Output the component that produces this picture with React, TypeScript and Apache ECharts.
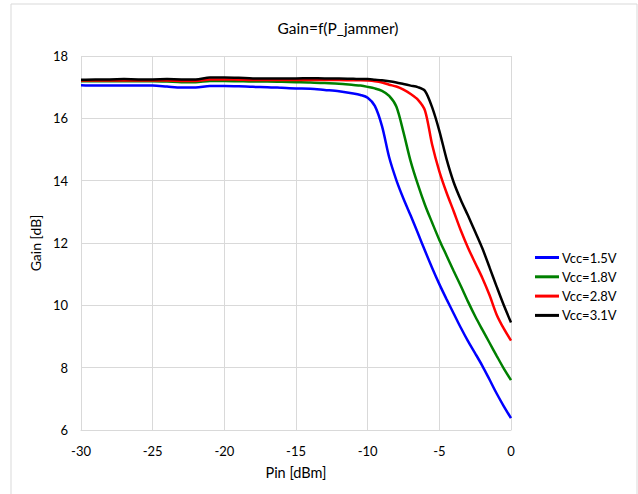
import React, { useEffect, useRef } from "react";
import * as echarts from "echarts";

const pin = [
  -30, -29, -28, -27, -26, -25, -24, -23, -22, -21, -20, -19, -18, -17, -16, -15, -14, -13, -12, -11,
  -10.5, -10, -9.5, -9, -8.5, -8, -7.5, -7, -6.5, -6, -5.5, -5, -4.5, -4, -3.5, -3, -2.5, -2, -1.5, -1, -0.5, 0,
];

const vcc15 = [
  17.06, 17.05, 17.05, 17.05, 17.05, 17.05, 17.02, 16.99, 16.99, 17.04, 17.04, 17.03, 17.01, 17.0, 16.98, 16.96, 16.95, 16.91, 16.87, 16.8,
  16.75, 16.66, 16.4, 15.75, 14.75, 14.02, 13.42, 12.88, 12.32, 11.75, 11.2, 10.68, 10.2, 9.74, 9.28, 8.85, 8.46, 8.06, 7.62, 7.17, 6.76, 6.38,
];

const vcc18 = [
  17.19, 17.19, 17.19, 17.19, 17.19, 17.19, 17.18, 17.16, 17.16, 17.2, 17.2, 17.19, 17.18, 17.18, 17.17, 17.16, 17.15, 17.13, 17.11, 17.07,
  17.05, 17.01, 16.96, 16.88, 16.72, 16.38, 15.55, 14.62, 13.88, 13.22, 12.65, 12.1, 11.6, 11.1, 10.62, 10.12, 9.65, 9.22, 8.8, 8.38, 7.97, 7.6,
];

const vcc28 = [
  17.21, 17.21, 17.21, 17.21, 17.21, 17.21, 17.21, 17.2, 17.2, 17.25, 17.25, 17.24, 17.23, 17.23, 17.23, 17.23, 17.23, 17.23, 17.23, 17.22,
  17.22, 17.21, 17.19, 17.15, 17.08, 17.02, 16.92, 16.78, 16.6, 16.25, 15.15, 14.3, 13.62, 13.02, 12.4, 11.85, 11.36, 10.88, 10.33, 9.7, 9.25, 8.87,
];

const vcc31 = [
  17.24, 17.25, 17.25, 17.26, 17.25, 17.25, 17.26, 17.25, 17.25, 17.31, 17.31, 17.3, 17.28, 17.28, 17.28, 17.28, 17.29, 17.28, 17.28, 17.27,
  17.26, 17.26, 17.24, 17.22, 17.19, 17.15, 17.1, 17.05, 17.0, 16.88, 16.35, 15.6, 14.7, 13.95, 13.38, 12.88, 12.36, 11.83, 11.22, 10.6, 10.0, 9.45,
];

const seriesNames = ["Vcc=1.5V", "Vcc=1.8V", "Vcc=2.8V", "Vcc=3.1V"];
const seriesColors = ["#0000ff", "#008000", "#ff0000", "#000000"];
const seriesValues = [vcc15, vcc18, vcc28, vcc31];

const FONT = "Lato, 'Noto Sans', sans-serif";

export default function App() {
  const ref = useRef<HTMLDivElement>(null);

  useEffect(() => {
    if (!ref.current) return;
    const chart = echarts.init(ref.current, null, { renderer: "svg" });
    chart.setOption({
      animation: false,
      backgroundColor: "#ffffff",
      textStyle: { fontFamily: FONT },
      graphic: [
        {
          type: "rect",
          shape: { x: 11, y: 4, width: 626, height: 500 },
          style: { fill: "none", stroke: "#d9d9d9", lineWidth: 1 },
          silent: true,
        },
        {
          type: "text",
          x: 338,
          y: 20,
          style: {
            text: "Gain=f(P_jammer)",
            fill: "#000000",
            font: `15.5px ${FONT}`,
            textAlign: "center",
            textVerticalAlign: "top",
          },
        },
      ],
      grid: { left: 81, right: 127, top: 56, bottom: 64, containLabel: false },
      legend: {
        orient: "vertical",
        left: 530,
        top: 246,
        itemWidth: 24,
        itemHeight: 3,
        itemGap: 6.3,
        icon: "rect",
        textStyle: { fontSize: 13, color: "#000000", fontFamily: FONT, padding: [0, 0, 0, -2] },
        data: seriesNames,
      },
      xAxis: {
        type: "value",
        min: -30,
        max: 0,
        interval: 5,
        name: "Pin [dBm]",
        nameLocation: "middle",
        nameGap: 35,
        nameTextStyle: { fontSize: 14.5, color: "#000000", fontFamily: FONT },
        axisLine: { show: true, lineStyle: { color: "#d9d9d9" } },
        axisTick: { show: false },
        axisLabel: { fontSize: 13, color: "#000000", margin: 14, fontFamily: FONT },
        splitLine: { show: true, lineStyle: { color: "#d9d9d9", width: 1 } },
      },
      yAxis: {
        type: "value",
        min: 6,
        max: 18,
        interval: 2,
        name: "Gain [dB]",
        nameLocation: "middle",
        nameGap: 36,
        nameTextStyle: { fontSize: 14, color: "#000000", fontFamily: FONT },
        axisLine: { show: false },
        axisTick: { show: false },
        axisLabel: { fontSize: 13, color: "#000000", margin: 13, fontFamily: FONT },
        splitLine: { show: true, lineStyle: { color: "#d9d9d9", width: 1 } },
      },
      series: seriesNames.map((name, i) => ({
        name,
        type: "line",
        data: pin.map((x, j) => [x, seriesValues[i][j]]),
        smooth: 0.3,
        symbol: "none",
        showSymbol: false,
        lineStyle: { color: seriesColors[i], width: 2.5 },
        itemStyle: { color: seriesColors[i] },
      })),
    });
    return () => chart.dispose();
  }, []);

  return (
    <div
      ref={ref}
      style={{ position: "fixed", left: 0, top: 0, width: 638, height: 494 }}
    />
  );
}
